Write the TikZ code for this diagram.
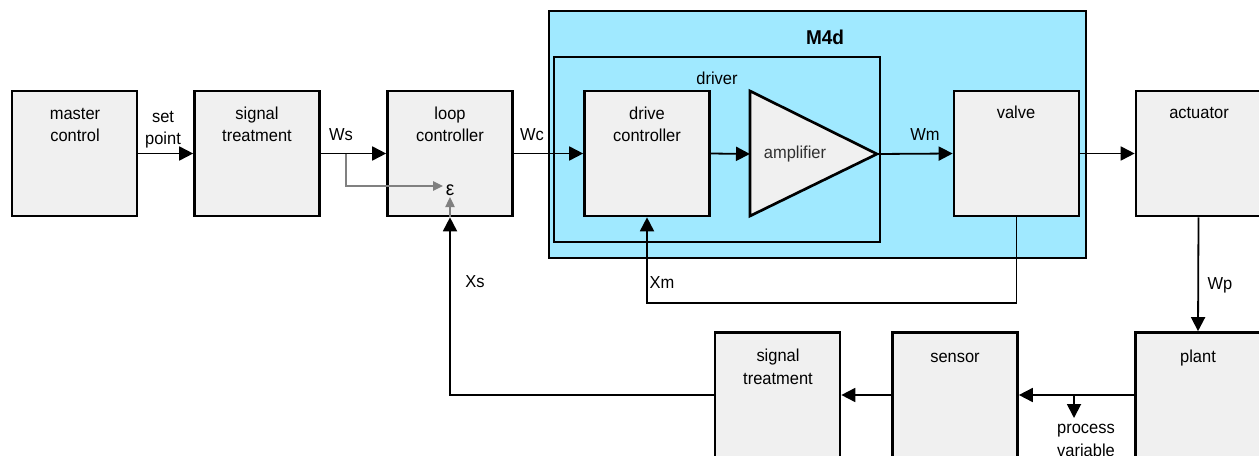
\documentclass[tikz,border=0pt]{standalone}
\usepackage{fontspec}
\setmainfont{Liberation Sans}[FakeStretch=0.95]
\usetikzlibrary{arrows.meta,calc}
\definecolor{boxgray}{HTML}{F0F0F0}
\definecolor{mcyan}{HTML}{A0E9FF}
\definecolor{lgray}{HTML}{808080}
\definecolor{ampgray}{HTML}{303030}
\begin{document}
\begin{tikzpicture}[x=0.75pt,y=-0.75pt,
  blk/.style={draw, line width=2pt, fill=boxgray, minimum width=93.75pt, minimum height=93.75pt, inner sep=0pt},
  txt/.style={font=\fontsize{13}{17}\selectfont, align=center, inner sep=0pt, anchor=base},
  con/.style={line width=1.35pt, -{Triangle[length=10.5pt,width=10.5pt]}},
  gcon/.style={draw=lgray, line width=1.2pt, -{Triangle[length=7.5pt,width=7pt]}},
  frame/.style={draw, line width=1.8pt},
]
\useasboundingbox (0,0) rectangle (1259,456);
% containers
\draw[frame, fill=mcyan] (549,11) rectangle (1086,258);
\node[font=\bfseries\fontsize{15}{18}\selectfont, anchor=base, inner sep=0pt] (m4dlbl) at (825,45) {M4d};
\draw[frame] (554,57) rectangle (880,242);
\node[txt] (drvlbl) at (717,85) {driver};
% blocks
\node[blk] (mc) at (74.5,153.5) {};
\node[blk] (st1) at (257,153.5) {};
\node[blk] (lc) at (450,153.5) {};
\node[blk] (dc) at (647,153.5) {};
\node[blk] (valve) at (1016.5,153.5) {};
\node[blk] (act) at (1198.5,153.5) {};
\node[blk] (plant) at (1198,395) {};
\node[blk] (sensor) at (955,395) {};
\node[blk] (st2) at (777.5,395) {};
% amplifier
\draw[line width=2pt, fill=boxgray, line join=miter] (750,91) -- (877,154) -- (750,216) -- cycle;
\coordinate (ampin) at (750,154);
\coordinate (ampout) at (877,154);
\node[txt, text=ampgray] (amptxt) at (795,159) {amplifier};
% block texts
\node[txt] (mct) at (75,142) {master\\control};
\node[txt] (st1t) at (257,142) {signal\\treatment};
\node[txt] (lct) at (450,142) {loop\\controller};
\node[txt] (dct) at (647,142) {drive\\controller};
\node[txt] (valvet) at (1016,119) {valve};
\node[txt] (actt) at (1199,119) {actuator};
\node[txt] (plantt) at (1198,362) {plant};
\node[txt] (sensort) at (955,362) {sensor};
\node[txt] (st2t) at (778,384) {signal\\treatment};
% epsilon
\node[inner sep=0pt, font=\fontsize{15}{18}\selectfont] (eps) at (450,190) {ε};
% coordinates
\coordinate (wsbr) at (346,154);
\coordinate (epsin) at (443,186);
\coordinate (xmrow) at (0,303);
\coordinate (pvtap) at (1074,395);
\coordinate (pvout) at (1074,418);
% connectors
\draw[con] (mc.east) -- (st1.west);
\draw[con] (st1.east) -- (lc.west);
\draw[gcon] (wsbr) |- (epsin);
\draw[con] (lc.east) -- (dc.west);
\draw[con] (dc.east) -- (ampin);
\draw[con] (ampout) -- (valve.west);
\draw[con] (valve.east) -- (act.west);
\draw[con] (act.south) -- (plant.north);
\draw[con] (plant.west) -- (sensor.east);
\draw[con] (pvtap) -- (pvout);
\draw[con] (sensor.west) -- (st2.east);
\draw[con] (st2.west) -| (lc.south);
\draw[gcon] (lc.south) -- ([yshift=-1pt]eps.south);
\draw[con] (valve.south) -- (valve.south |- xmrow) -| (dc.south);
% connector labels
\node[txt] (setpt) at (163,145) {set\\point};
\node[txt] (wslbl) at (341,141) {Ws};
\node[txt] (wclbl) at (532,141) {Wc};
\node[txt] (wmlbl) at (925,141) {Wm};
\node[txt] (xslbl) at (475,287) {Xs};
\node[txt] (xmlbl) at (662,288) {Xm};
\node[txt] (wplbl) at (1220,289) {Wp};
\node[txt] (pvlbl) at (1086,456) {process\\variable};
\end{tikzpicture}
\end{document}
